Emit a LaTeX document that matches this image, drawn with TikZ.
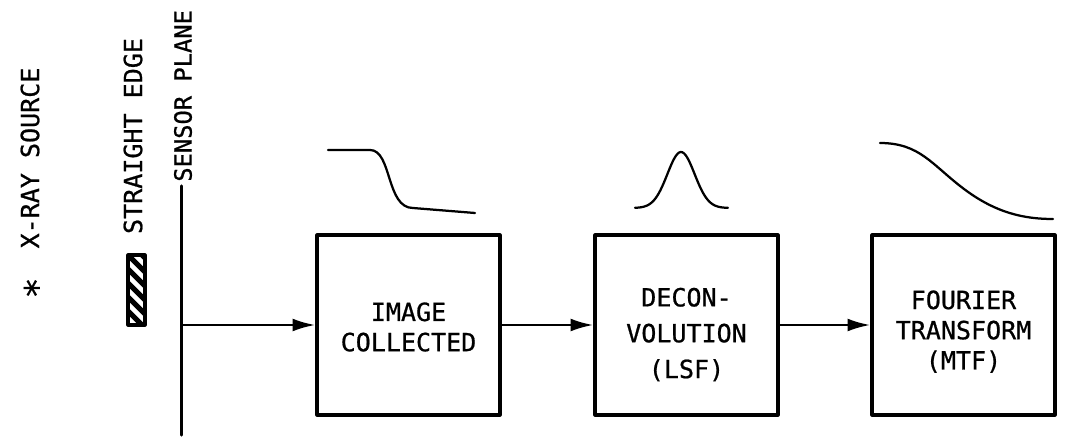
\documentclass[tikz,border=0pt]{standalone}
\usepackage{fontspec}
\newfontfamily\lettering{DejaVu Sans Mono}[FakeBold=0.8]
\usetikzlibrary{arrows.meta}

\begin{document}
\begin{tikzpicture}[
	every node/.style={font=\lettering\fontsize{17.8}{21.5}\selectfont, inner sep=0pt},
	line cap=round,
	line join=round,
	blockbox/.style={draw, line width=2.2pt, minimum width=4.575cm, minimum height=4.5cm},
	blocktext/.style={align=center},
	flow/.style={-{Latex[length=5.7mm, width=3.2mm]}, line width=1.9pt},
	signal/.style={line width=1.6pt}
	]
	\useasboundingbox (0,0) rectangle (27,11.025);
	
	% source, straight edge and sensor plane
	\node[rotate=90, scale=1.4] (source) at (0.92,3.825) {*};
	\node[rotate=90] (sourcelabel) at (0.75,7.075) {X-RAY SOURCE};
	
	\begin{scope}
		\clip (3.2,2.9) rectangle (3.625,4.65);
		\foreach \y in {3.0,3.35,...,5.4}
		{
			\draw[line width=3.6pt, line cap=butt] (3.1,\y) -- (3.7,\y-0.6);
		}
	\end{scope}
	\draw[line width=2.2pt] (3.2,2.9) rectangle (3.625,4.65);
	\node[rotate=90] (edgelabel) at (3.325,7.625) {STRAIGHT EDGE};
	
	\coordinate (planetop) at (4.54,6.375);
	\coordinate (planebot) at (4.54,0.15);
	\draw[line width=2.3pt] (planebot) -- (planetop);
	\node[rotate=90, anchor=west, font=\lettering\fontsize{16.9}{20}\selectfont] (planelabel) at (4.575,6.475) {SENSOR PLANE};
	
	% processing blocks
	\node[blockbox] (collect) at (10.2125,2.9) {};
	\node[blocktext] (collecttext) at ([yshift=-0.05cm]collect.center) {IMAGE\\COLLECTED};
	
	\node[blockbox] (decon) at (17.1625,2.9) {};
	\node[blocktext, font=\lettering\fontsize{17.8}{25.5}\selectfont] (decontext) at ([yshift=-0.24cm]decon.center) {DECON-\\VOLUTION\\(LSF)};
	
	\node[blockbox] (fourier) at (24.0875,2.9) {};
	\node[blocktext] (fouriertext) at ([yshift=-0.165cm]fourier.center) {FOURIER\\TRANSFORM\\(MTF)};
	
	\draw[flow] (planebot |- collect.west) -- (collect.west);
	\draw[flow] (collect) -- (decon);
	\draw[flow] (decon) -- (fourier);
	
	% signal shapes above the blocks
	\draw[signal] (8.2,7.275) -- (9.25,7.275) .. controls (9.8,7.275) and (9.65,5.825) .. (10.325,5.825) -- (11.875,5.7);
	\draw[signal] plot[domain=15.875:18.2, samples=60, smooth] (\x, {5.825 + 1.4*exp(-((\x-17.025)^2)/0.2312)});
	\draw[signal] (22.0,7.45) .. controls (23.0,7.45) and (23.3,6.9) .. (24.1,6.3) .. controls (24.9,5.7) and (25.6,5.55) .. (26.325,5.55);
\end{tikzpicture}
\end{document}
